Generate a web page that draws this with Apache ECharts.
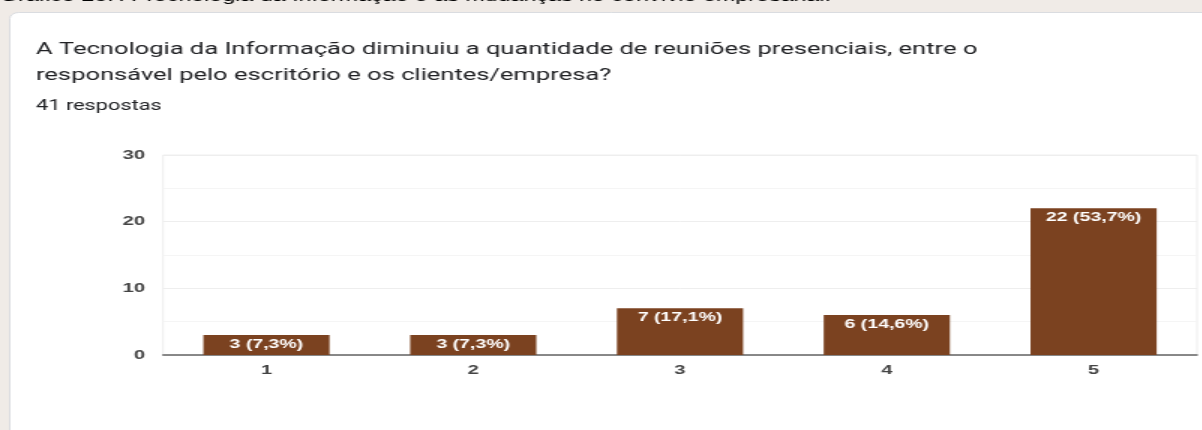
<!DOCTYPE html>
<html>
<head>
<meta charset="utf-8">
<script src="https://cdn.jsdelivr.net/npm/echarts@6/dist/echarts.min.js"></script>
<style>
html,body{margin:0;padding:0;background:#f0ebe7;overflow:hidden;}
/* a imagem original está esticada na horizontal */
#chart{width:802px;height:430px;transform:scaleX(1.5);transform-origin:0 0;}
</style>
</head>
<body>
<div id="chart"></div>
<script>
var categories = ['1', '2', '3', '4', '5'];
var counts = [3, 3, 7, 6, 22];
var percents = ['7,3%', '7,3%', '17,1%', '14,6%', '53,7%'];
var yTicks = [0, 10, 20, 30];

var chart = echarts.init(document.getElementById('chart'));
var option = {
    backgroundColor: '#f0ebe7',
    animation: false,
    graphic: [
        {   // cartão branco
            type: 'rect',
            shape: {x: 6.5, y: 12.5, width: 820, height: 430, r: 6},
            style: {fill: '#ffffff', stroke: '#dadce0', lineWidth: 1},
            z: -10
        },
        {   // legenda do gráfico cortada no topo
            type: 'text',
            left: 0, top: -11,
            style: {
                text: 'Gráfico 25: A Tecnologia da Informação e as mudanças no convívio empresarial.',
                fill: '#000', font: '15.5px "Liberation Sans", Arial, sans-serif'
            }
        },
        {
            type: 'text',
            left: 24, top: 37,
            style: {
                text: 'A Tecnologia da Informação diminuiu a quantidade de reuniões presenciais, entre o\nresponsável pelo escritório e os clientes/empresa?',
                fill: '#202124', font: '17px Roboto, Arial, sans-serif', lineHeight: 26
            }
        },
        {
            type: 'text',
            left: 24, top: 99,
            style: {
                text: '41 respostas',
                fill: '#202124', font: '14.5px Roboto, Arial, sans-serif'
            }
        }
    ],
    grid: {
        left: 108.7, right: 4, top: 155, bottom: 75,
        show: true, borderColor: '#eeeeee', borderWidth: 1
    },
    xAxis: {
        type: 'category',
        data: categories,
        axisTick: {show: false},
        axisLine: {show: true, lineStyle: {color: '#666666', width: 1.5}},
        axisLabel: {color: '#444444', fontSize: 13.5, fontWeight: 'bold', fontFamily: 'Arial', margin: 8}
    },
    yAxis: {
        type: 'value',
        min: yTicks[0], max: yTicks[yTicks.length - 1], interval: 10,
        axisLine: {show: false},
        axisTick: {show: false},
        axisLabel: {color: '#444444', fontSize: 13.5, fontWeight: 'bold', fontFamily: 'Arial', margin: 12},
        splitLine: {show: true, lineStyle: {color: '#eeeeee'}},
        minorTick: {show: false, splitNumber: 2},
        minorSplitLine: {show: true, lineStyle: {color: '#f5f5f5'}}
    },
    series: [{
        type: 'bar',
        data: counts,
        barWidth: '61%',
        itemStyle: {color: '#7b4220'},
        label: {
            show: true,
            position: 'insideTop',
            distance: 3,
            color: '#ffffff',
            fontSize: 13,
            fontWeight: 'bold',
            fontFamily: 'Arial',
            formatter: function (p) { return counts[p.dataIndex] + ' (' + percents[p.dataIndex] + ')'; }
        }
    }]
};
chart.setOption(option);
</script>
</body>
</html>
